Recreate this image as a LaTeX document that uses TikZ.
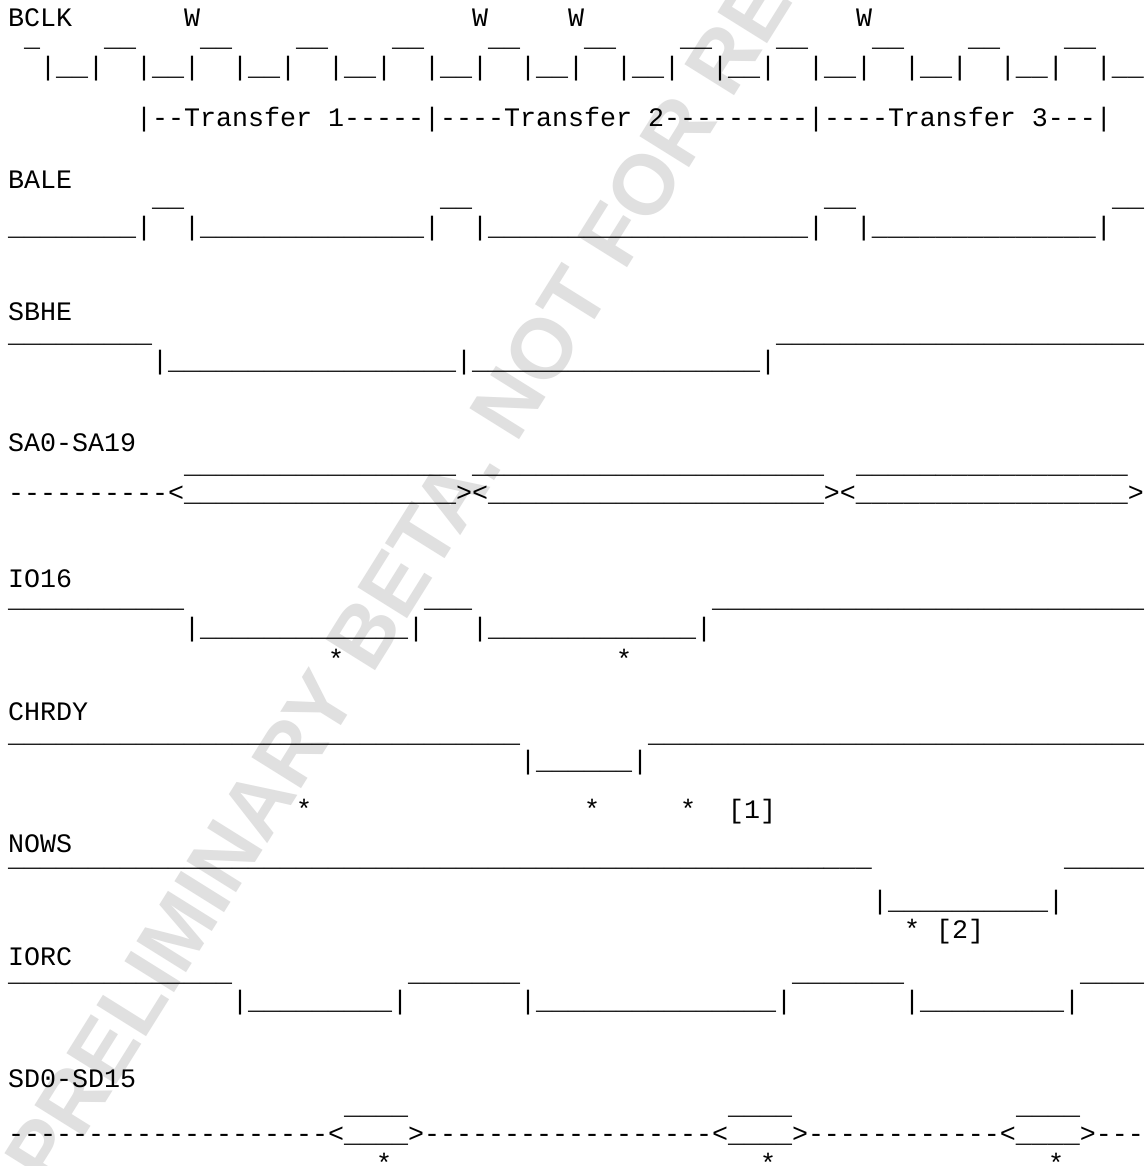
\documentclass[tikz,border=0pt]{standalone}
\usepackage{fontspec}
\setmonofont{Liberation Mono}
\newfontfamily\wmfont{Liberation Sans}
\ExplSyntaxOn
\cs_new:Npn \chrep #1#2 { \prg_replicate:nn {#1} {#2} }
\ExplSyntaxOff
\definecolor{wmgray}{RGB}{224,224,224}
\tikzset{
  wave/.style={anchor=base west, inner sep=0pt, text=black,
    font=\ttfamily\fontsize{26.66pt}{30pt}\selectfont},
  wmark/.style={anchor=base west, inner sep=0pt, text=wmgray, rotate=58,
    font=\wmfont\bfseries\fontsize{85pt}{85pt}\selectfont},
}

\begin{document}
\begin{tikzpicture}[x=1pt, y=-1pt]
\useasboundingbox (0,0) rectangle (1144,1166);
\fill[white] (0,0) rectangle (1144,1166);

% watermark
\node[wmark] (wm) at (51,1190) {PRELIMINARY BETA. NOT FOR RE};

% BCLK
\node[wave] (bclk)    at (8,27)  {BCLK\chrep{7}{~}W\chrep{17}{~}W\chrep{5}{~}W\chrep{17}{~}W};
\node[wave] (bclk-hi) at (8,47)  {~\_\chrep{11}{~~~~\_\_}};
\node[wave] (bclk-lo) at (8,76)  {~~\chrep{11}{|\_\_|~~}|\_\_};
\node[wave] (xfer)    at (8,127) {\chrep{8}{~}|--Transfer~1-----|----Transfer~2---------|----Transfer~3---|};

% BALE
\node[wave] (bale)    at (8,189) {BALE};
\node[wave] (bale-hi) at (8,207) {\chrep{9}{~}\_\_\chrep{16}{~}\_\_\chrep{22}{~}\_\_\chrep{16}{~}\_\_};
\node[wave] (bale-lo) at (8,236) {\chrep{8}{\_}|~~|\chrep{14}{\_}|~~|\chrep{20}{\_}|~~|\chrep{14}{\_}|};

% SBHE
\node[wave] (sbhe)    at (8,320) {SBHE};
\node[wave] (sbhe-hi) at (8,342) {\chrep{9}{\_}\chrep{39}{~}\chrep{23}{\_}};
\node[wave] (sbhe-lo) at (8,369) {\chrep{9}{~}|\chrep{18}{\_}|\chrep{18}{\_}|};

% SA0-SA19
\node[wave] (sa)      at (8,451) {SA0-SA19};
\node[wave] (sa-hi)   at (8,473) {\chrep{11}{~}\chrep{17}{\_}~\chrep{22}{\_}~~\chrep{17}{\_}};
\node[wave] (sa-lo)   at (8,501) {----------<\chrep{17}{\_}><\chrep{21}{\_}><\chrep{17}{\_}>};

% IO16
\node[wave] (io)      at (8,587) {IO16};
\node[wave] (io-hi)   at (8,607) {\chrep{11}{\_}\chrep{15}{~}\_\_\_\chrep{15}{~}\chrep{27}{\_}};
\node[wave] (io-lo)   at (8,636) {\chrep{11}{~}|\chrep{13}{\_}|~~~|\chrep{13}{\_}|};
\node[wave] (io-st)   at (8,668) {\chrep{20}{~}*\chrep{17}{~}*};

% CHRDY
\node[wave] (chrdy)    at (8,720) {CHRDY};
\node[wave] (chrdy-hi) at (8,742) {\chrep{32}{\_}\chrep{8}{~}\chrep{31}{\_}};
\node[wave] (chrdy-lo) at (8,769) {\chrep{32}{~}|\chrep{6}{\_}|};
\node[wave] (chrdy-st) at (8,818) {\chrep{18}{~}*\chrep{17}{~}*\chrep{5}{~}*~~[1]};

% NOWS
\node[wave] (nows)    at (8,852) {NOWS};
\node[wave] (nows-hi) at (8,866) {\chrep{54}{\_}\chrep{12}{~}\chrep{5}{\_}};
\node[wave] (nows-lo) at (8,909) {\chrep{54}{~}|\chrep{10}{\_}|};
\node[wave] (nows-st) at (8,938) {\chrep{56}{~}*~[2]};

% IORC
\node[wave] (iorc)    at (8,965)  {IORC};
\node[wave] (iorc-hi) at (8,981)  {\chrep{14}{\_}\chrep{11}{~}\chrep{7}{\_}\chrep{17}{~}\chrep{7}{\_}\chrep{11}{~}\chrep{4}{\_}};
\node[wave] (iorc-lo) at (8,1009) {\chrep{14}{~}|\chrep{9}{\_}|\chrep{7}{~}|\chrep{15}{\_}|\chrep{7}{~}|\chrep{9}{\_}|};

% SD0-SD15
\node[wave] (sd)      at (8,1087) {SD0-SD15};
\node[wave] (sd-hi)   at (8,1114) {\chrep{21}{~}\chrep{4}{\_}\chrep{20}{~}\chrep{4}{\_}\chrep{14}{~}\chrep{4}{\_}};
\node[wave] (sd-lo)   at (8,1142) {\chrep{20}{-}<\chrep{4}{\_}>\chrep{18}{-}<\chrep{4}{\_}>\chrep{12}{-}<\chrep{4}{\_}>---};
\node[wave] (sd-st)   at (8,1172) {\chrep{23}{~}*\chrep{23}{~}*\chrep{17}{~}*};
\end{tikzpicture}
\end{document}
